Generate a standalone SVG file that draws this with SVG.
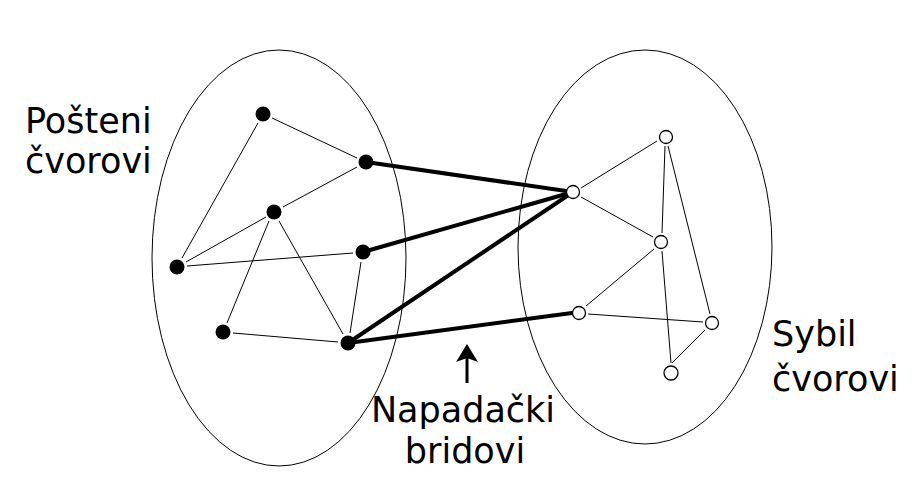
<svg xmlns="http://www.w3.org/2000/svg" width="924" height="478" viewBox="0 0 924 478">
<defs>
<style>
.set{fill:none;stroke:#000;stroke-width:1}
.e{stroke:#000;stroke-width:1;fill:none}
.a{stroke:#000;stroke-width:4;fill:none;stroke-linecap:round}
.h{fill:#000;stroke:none}
.s{fill:#fff;stroke:#000;stroke-width:1.3}
.t{font-family:"DejaVu Sans",sans-serif;font-size:35px;fill:#000}
</style>
</defs>
<rect width="924" height="478" fill="#fff"/>
<ellipse class="set" cx="279" cy="258" rx="127" ry="208"/>
<ellipse class="set" cx="645" cy="247" rx="127" ry="197"/>
<g id="connectors">
<line class="e" x1="272" y1="118" x2="357" y2="158"/>
<line class="e" x1="258" y1="123" x2="182" y2="258"/>
<line class="e" x1="186" y1="262" x2="266" y2="217"/>
<line class="e" x1="283" y1="207" x2="357" y2="167"/>
<line class="e" x1="187" y1="266" x2="353" y2="253"/>
<line class="e" x1="269" y1="221" x2="227" y2="323"/>
<line class="e" x1="279" y1="221" x2="343" y2="334"/>
<line class="e" x1="233" y1="333" x2="338" y2="342"/>
<line class="e" x1="361" y1="262" x2="350" y2="333"/>
<line class="a" x1="366" y1="162" x2="573" y2="192"/>
<line class="a" x1="363" y1="252" x2="573" y2="192"/>
<line class="a" x1="348" y1="343" x2="573" y2="192"/>
<line class="a" x1="348" y1="343" x2="572" y2="313"/>
<line class="e" x1="581" y1="188" x2="657" y2="141"/>
<line class="e" x1="581" y1="197" x2="653" y2="237"/>
<line class="e" x1="665" y1="146" x2="662" y2="233"/>
<line class="e" x1="668" y1="146" x2="710" y2="314"/>
<line class="e" x1="654" y1="249" x2="586" y2="306"/>
<line class="e" x1="588" y1="314" x2="703" y2="322"/>
<line class="e" x1="662" y1="251" x2="671" y2="363"/>
<line class="e" x1="705" y1="330" x2="672" y2="363"/>
<line x1="467" y1="383" x2="467" y2="356" stroke="#000" stroke-width="3"/>
<polygon class="h" points="467,344 478,362 467,358 456,362"/>
</g>
<g id="h1"><circle cx="263" cy="114" r="7.5"/></g>
<g id="h2"><circle cx="366" cy="162" r="7.5"/></g>
<g id="h3"><circle cx="274" cy="212" r="7.5"/></g>
<g id="h4"><circle cx="177" cy="267" r="7.5"/></g>
<g id="h5"><circle cx="363" cy="252" r="7.5"/></g>
<g id="h6"><circle cx="223" cy="332" r="7.5"/></g>
<g id="h7"><circle cx="348" cy="343" r="7.5"/></g>
<g id="s1"><circle class="s" cx="666" cy="137" r="6.5"/></g>
<g id="s2"><circle class="s" cx="573" cy="192" r="6.5"/></g>
<g id="s3"><circle class="s" cx="661" cy="242" r="6.5"/></g>
<g id="s4"><circle class="s" cx="579" cy="313" r="6.5"/></g>
<g id="s5"><circle class="s" cx="712" cy="323" r="6.5"/></g>
<g id="s6"><circle class="s" cx="671" cy="373" r="7"/></g>
<g id="labels">
<text class="t" x="25" y="133">Pošteni</text>
<text class="t" x="25" y="173">čvorovi</text>
<text class="t" x="772" y="346">Sybil</text>
<text class="t" x="772" y="391">čvorovi</text>
<text class="t" x="463" y="422" text-anchor="middle">Napadački</text>
<text class="t" x="465" y="463" text-anchor="middle">bridovi</text>
</g>
</svg>
